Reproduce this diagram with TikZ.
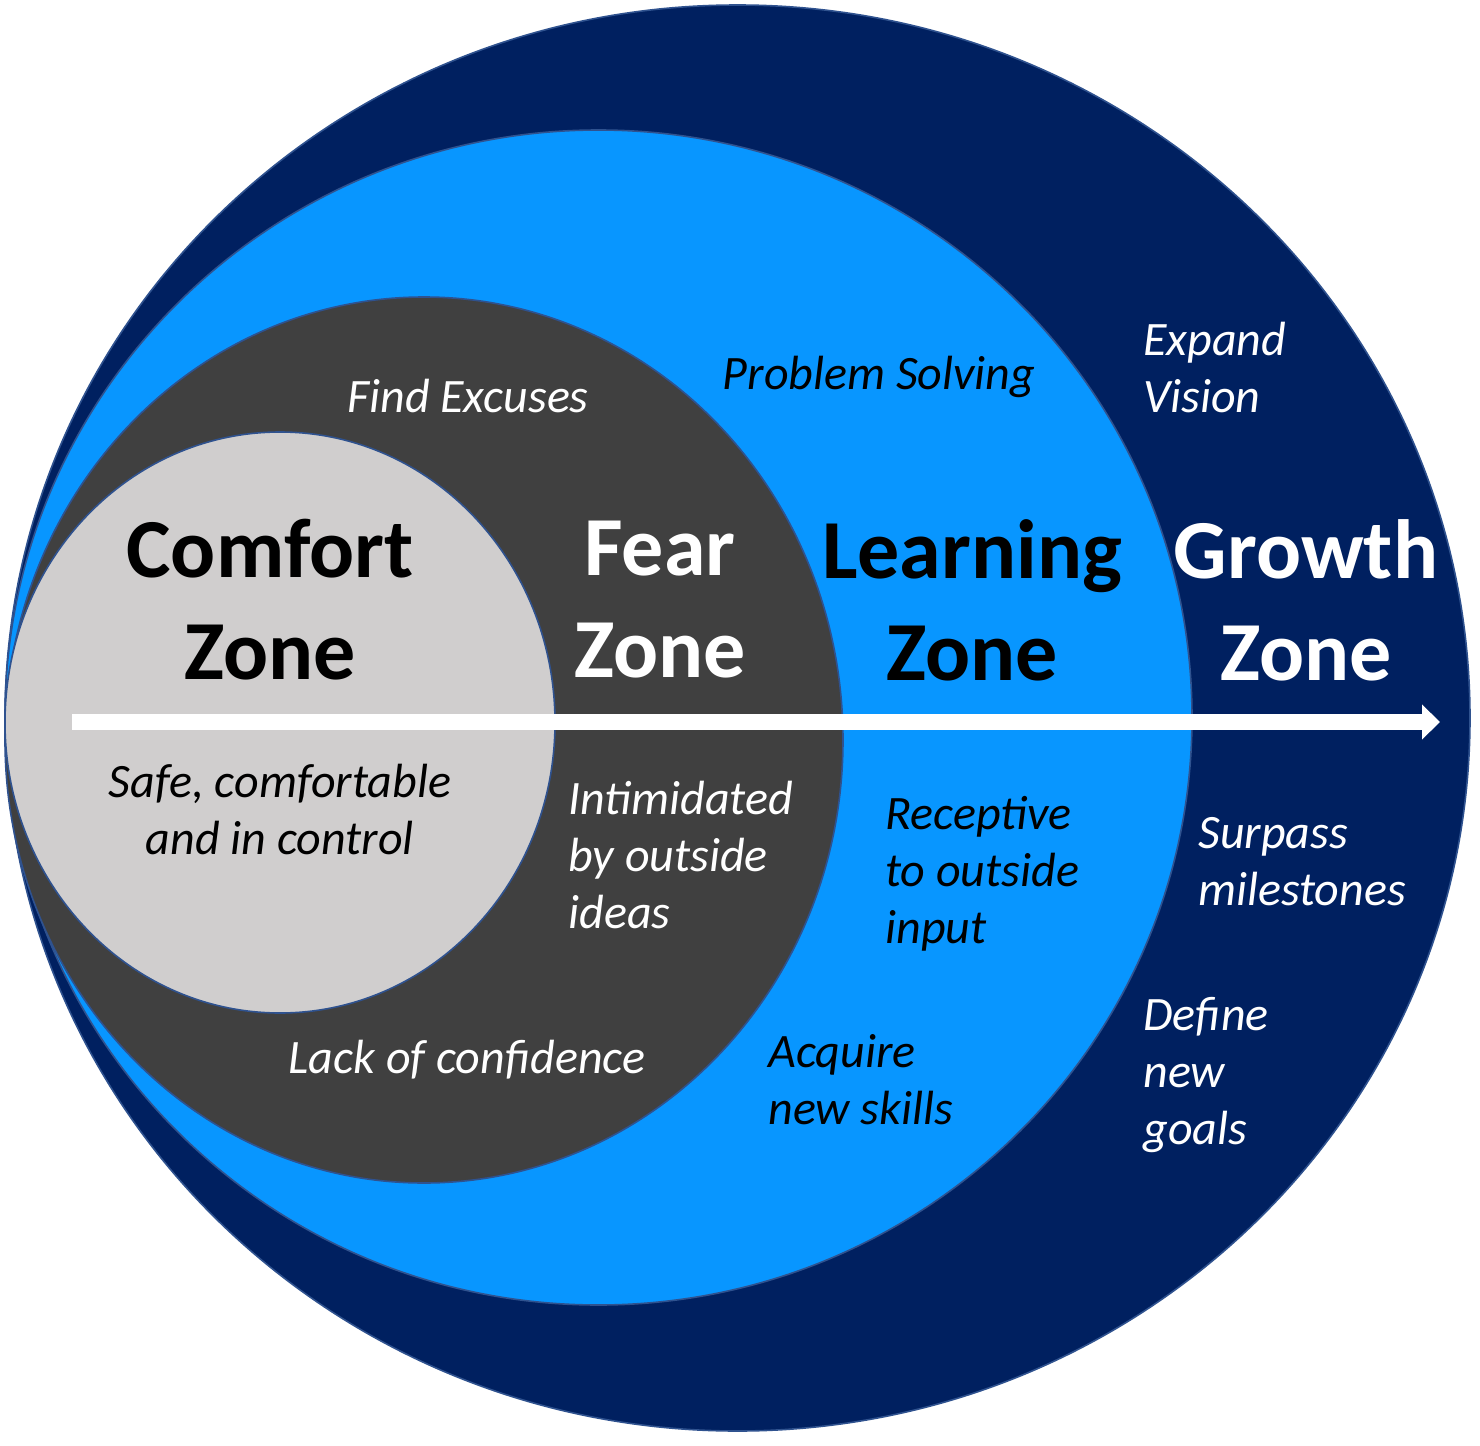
\documentclass[tikz,border=0pt]{standalone}
\usepackage{fontspec}
\setmainfont{Carlito}
\usepackage{tikz}
\usetikzlibrary{arrows.meta}

\definecolor{navy}{RGB}{0,32,96}
\definecolor{skyblue}{RGB}{8,150,255}
\definecolor{darkgrey}{RGB}{64,64,64}
\definecolor{lightgrey}{RGB}{208,206,206}
\definecolor{rimblue}{RGB}{47,82,143}

\begin{document}
\begin{tikzpicture}[
    x=0.5pt,y=-0.5pt,
    zone/.style={draw=rimblue,line width=0.8pt},
    title/.style={inner sep=0pt,align=center,font=\fontsize{42}{51}\selectfont\bfseries},
    note/.style={inner sep=0pt,align=left,font=\fontsize{24}{28.5}\selectfont\itshape},
    ]
    \useasboundingbox (0, 0) rectangle (1480, 1446);
    \fill[zone,fill=navy] (737.5, 718) ellipse [x radius=732.5, y radius=713];
    \fill[zone,fill=skyblue] (598.5, 717.5) ellipse [x radius=593.5, y radius=587.5];
    \fill[zone,fill=darkgrey] (424, 740) ellipse [x radius=419, y radius=443];
    \fill[zone,fill=lightgrey] (280, 722.5) ellipse [x radius=275, y radius=290.5];
    \coordinate (start) at (72, 722);
    \coordinate (end) at (1440, 722);
    \draw[white, line width=8pt, -{Triangle[length=9pt,width=17pt]}] (start) -- (end);
    \node[title] (comfort) at (270, 600) {Comfort\\Zone};
    \node[title,white] (fear) at (660, 600) {Fear\\Zone};
    \node[title] (learning) at (972, 600) {Learning\\Zone};
    \node[title,white] (growth) at (1306, 600) {Growth\\Zone};
    \node[note,white] (excuses) at (468, 396) {Find Excuses};
    \node[note] (solving) at (879, 377) {Problem Solving};
    \node[note,white,anchor=west] (vision) at (1143, 368) {Expand\\Vision};
    \node[note,align=center] (safe) at (280, 810) {Safe, comfortable\\and in control};
    \node[note,white,anchor=west] (intimidated) at (568, 855) {Intimidated\\by outside\\ideas};
    \node[note,anchor=west] (receptive) at (885, 874) {Receptive\\to outside\\input};
    \node[note,white,anchor=west] (surpass) at (1198, 862) {Surpass\\milestones};
    \node[note,white] (confidence) at (467, 1060) {Lack of confidence};
    \node[note,anchor=west] (skills) at (768, 1080) {Acquire\\new skills};
    \node[note,white,anchor=west] (goals) at (1143, 1075) {Define\\new\\goals};
  \end{tikzpicture}
\end{document}
